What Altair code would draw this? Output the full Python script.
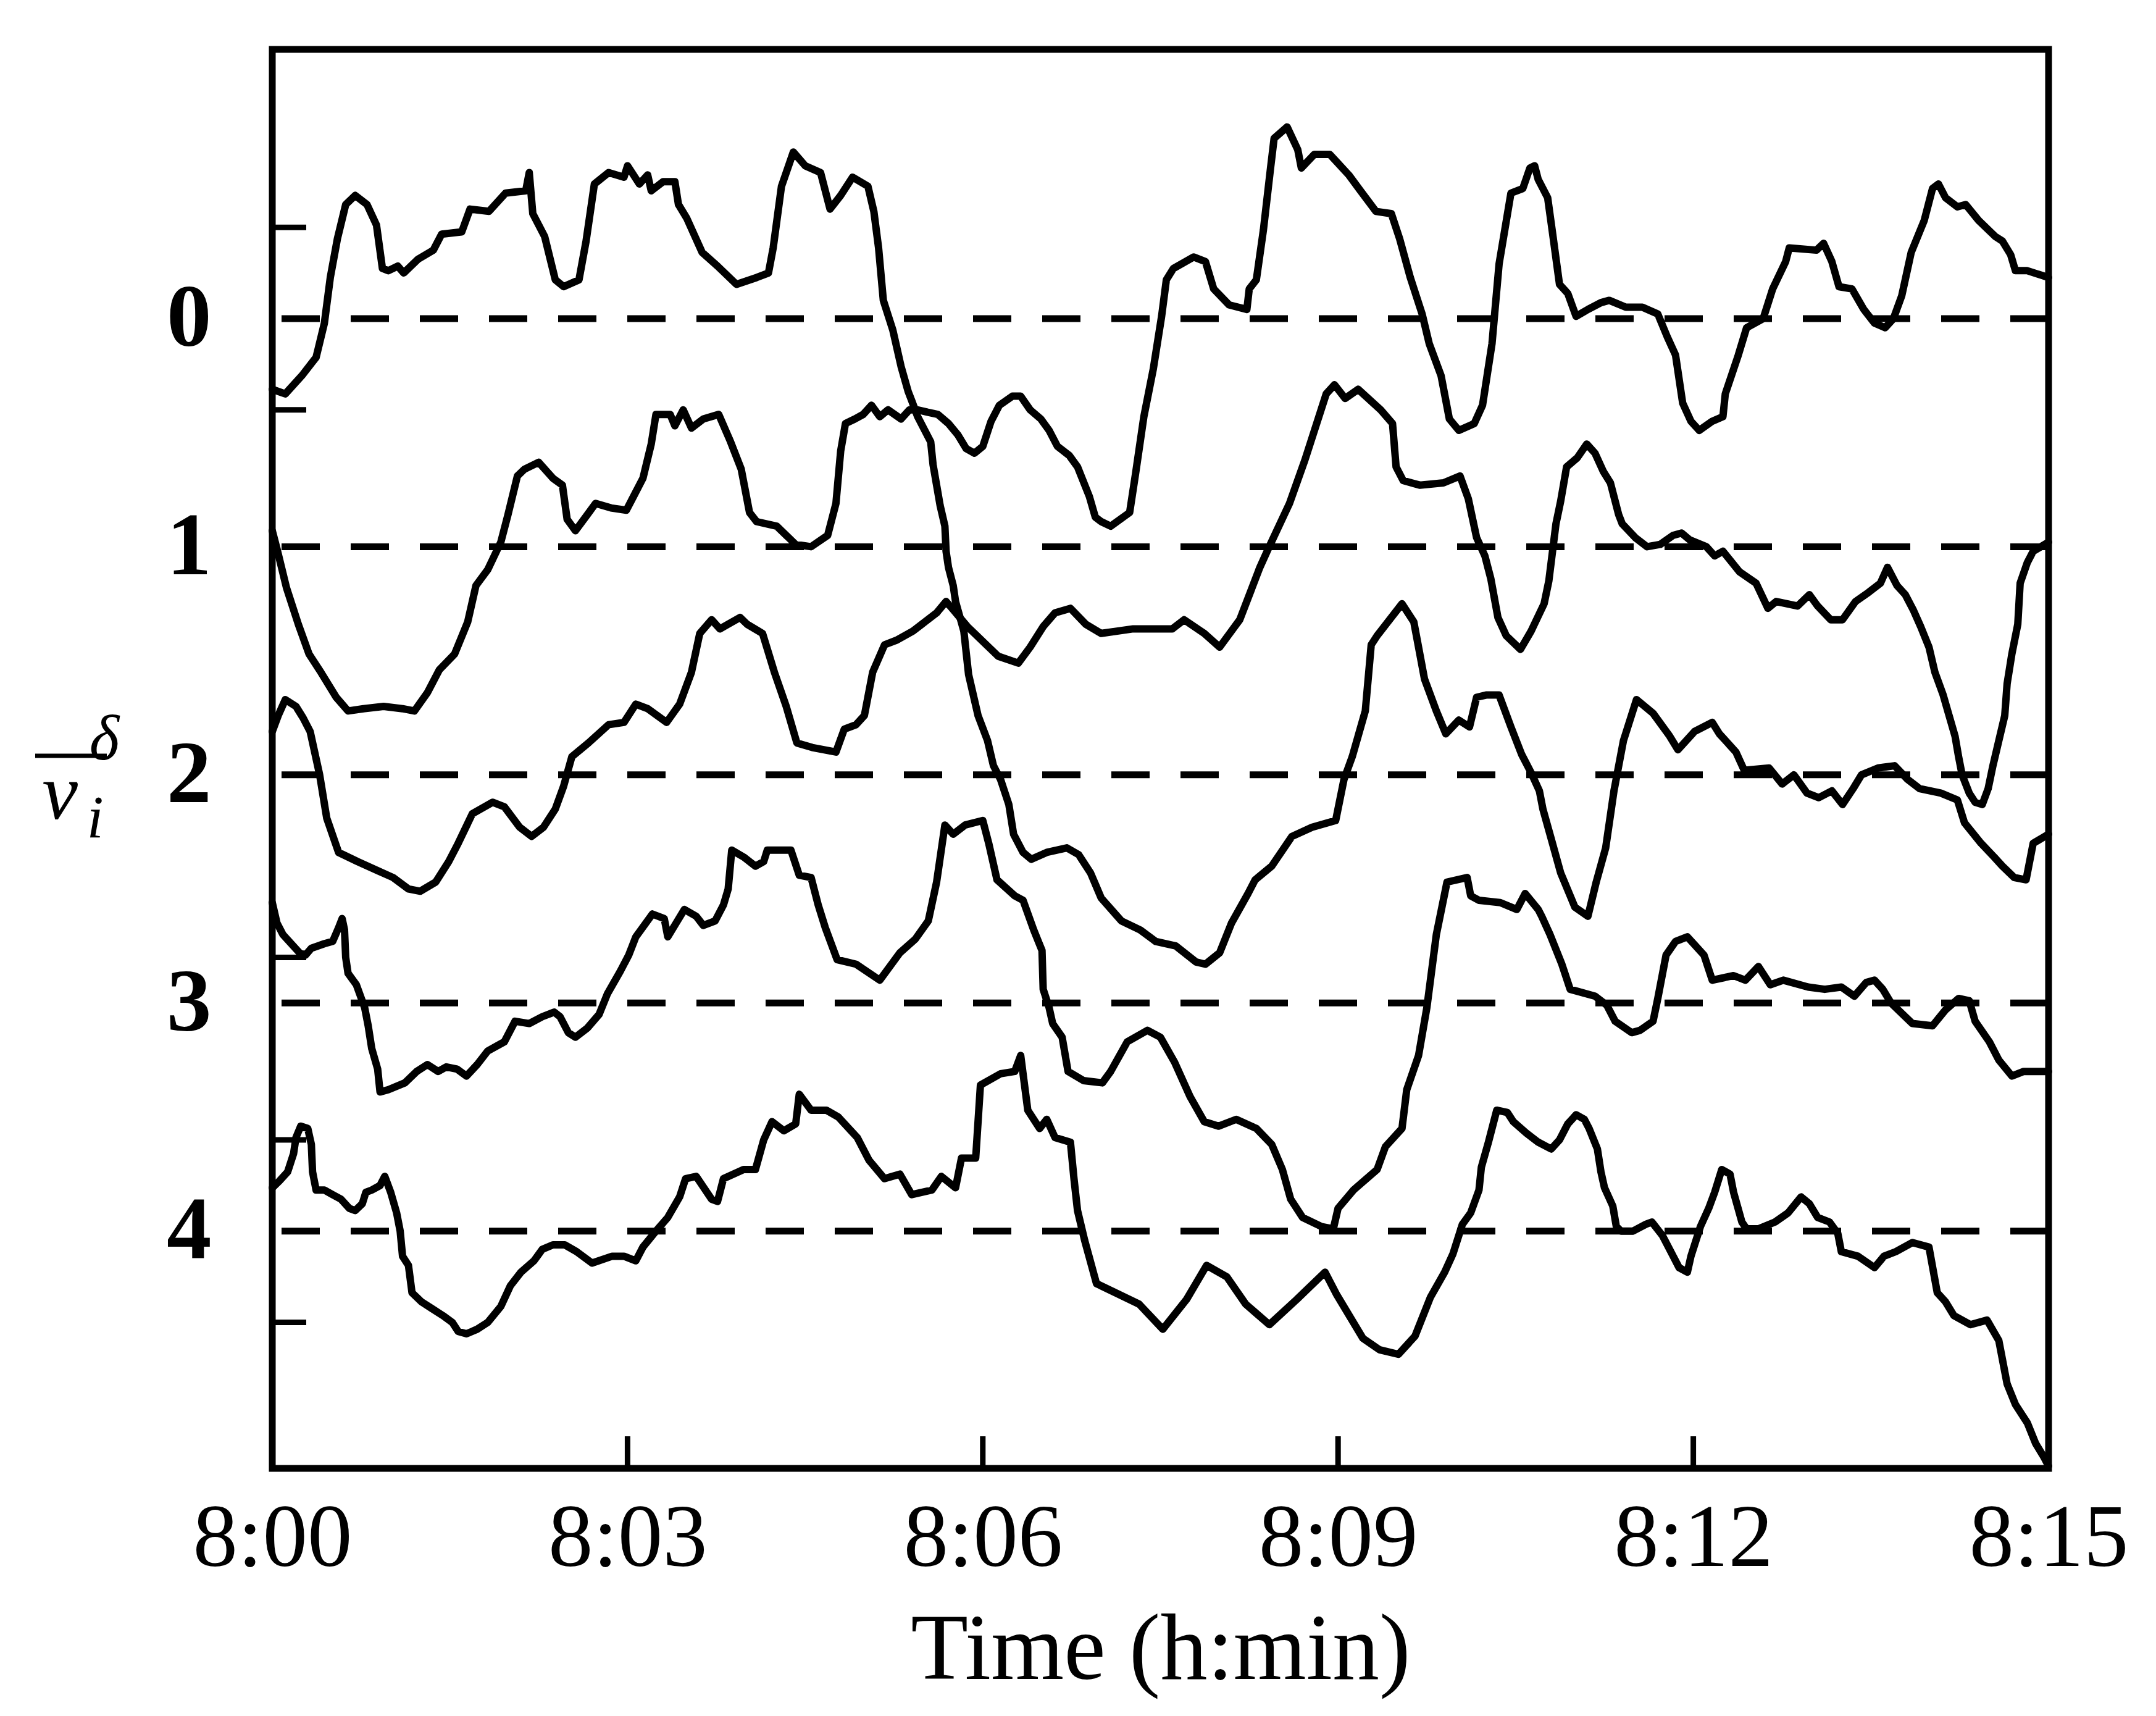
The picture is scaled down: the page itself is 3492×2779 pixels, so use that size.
import altair as alt
import pandas as pd

# ---- data: (minutes after 8:00, offset value) ----
trace0 = [(0,0.31),(0.11,0.33),(0.25,0.25),(0.37,0.17),(0.44,0.02),(0.49,-0.18),(0.55,-0.35),(0.62,-0.50),(0.70,-0.54),(0.80,-0.50),(0.88,-0.41),(0.93,-0.22),(0.98,-0.21),(1.06,-0.23),(1.11,-0.20),(1.23,-0.26),(1.36,-0.30),(1.43,-0.37),(1.60,-0.38),(1.67,-0.48),(1.83,-0.47),(1.97,-0.55),(2.14,-0.56),(2.17,-0.64),(2.20,-0.46),(2.30,-0.36),(2.39,-0.17),(2.46,-0.14),(2.59,-0.17),(2.65,-0.34),(2.72,-0.59),(2.84,-0.64),(2.97,-0.62),(3.00,-0.67),(3.10,-0.59),(3.17,-0.63),(3.20,-0.56),(3.30,-0.60),(3.40,-0.60),(3.43,-0.50),(3.50,-0.44),(3.63,-0.29),(3.76,-0.23),(3.92,-0.15),(4.09,-0.18),(4.19,-0.20),(4.23,-0.31),(4.30,-0.58),(4.40,-0.73),(4.50,-0.67),(4.63,-0.64),(4.71,-0.48),(4.80,-0.54),(4.90,-0.62),(5.03,-0.58),(5.08,-0.47),(5.12,-0.31),(5.16,-0.08),(5.24,0.05),(5.31,0.21),(5.37,0.32),(5.40,0.36),(5.45,0.43),(5.51,0.49),(5.56,0.54),(5.58,0.64),(5.61,0.73),(5.64,0.82),(5.68,0.91),(5.69,1.02),(5.71,1.09),(5.75,1.17),(5.77,1.24),(5.84,1.37),(5.88,1.56),(5.96,1.74),(6.04,1.85),(6.09,1.96),(6.15,2.02),(6.22,2.13),(6.26,2.26),(6.34,2.34),(6.41,2.37),(6.54,2.34),(6.71,2.32),(6.81,2.35),(6.91,2.43),(7.00,2.54),(7.17,2.64),(7.33,2.68),(7.46,2.73),(7.63,2.75),(7.80,2.82),(7.88,2.83),(8.00,2.78),(8.10,2.65),(8.24,2.52),(8.30,2.46),(8.44,2.40),(8.61,2.27),(8.78,2.23),(8.98,2.20),(9.05,2.02),(9.12,1.92),(9.23,1.72),(9.28,1.43),(9.33,1.39),(9.54,1.25),(9.64,1.33),(9.73,1.58),(9.83,1.72),(9.91,1.82),(10.02,1.76),(10.11,1.79),(10.17,1.66),(10.25,1.65),(10.36,1.65),(10.46,1.79),(10.55,1.91),(10.63,1.99),(10.70,2.07),(10.73,2.15),(10.80,2.28),(10.88,2.43),(11.00,2.58),(11.11,2.62),(11.18,2.47),(11.26,2.32),(11.33,2.07),(11.41,1.85),(11.52,1.67),(11.66,1.73),(11.80,1.83),(11.87,1.89),(12.01,1.81),(12.16,1.77),(12.22,1.82),(12.36,1.90),(12.43,1.98),(12.64,1.97),(12.75,2.04),(12.85,2.00),(12.96,2.08),(13.06,2.10),(13.17,2.07),(13.26,2.13),(13.35,2.06),(13.42,2.00),(13.56,1.97),(13.70,1.96),(13.81,2.02),(13.91,2.06),(14.09,2.08),(14.23,2.11),(14.29,2.21),(14.43,2.30),(14.54,2.36),(14.61,2.40),(14.71,2.45),(14.81,2.46),(14.87,2.30),(15.0,2.26)]

trace1 = [(0,0.93),(0.04,1.01),(0.12,1.18),(0.22,1.34),(0.31,1.47),(0.41,1.55),(0.54,1.66),(0.64,1.72),(0.77,1.71),(0.94,1.70),(1.10,1.71),(1.20,1.72),(1.31,1.64),(1.41,1.54),(1.54,1.47),(1.65,1.33),(1.72,1.17),(1.82,1.10),(1.93,0.98),(1.99,0.86),(2.07,0.69),(2.13,0.66),(2.25,0.63),(2.37,0.70),(2.45,0.73),(2.49,0.88),(2.56,0.93),(2.66,0.86),(2.73,0.81),(2.86,0.83),(2.99,0.84),(3.05,0.78),(3.13,0.70),(3.20,0.55),(3.24,0.42),(3.36,0.42),(3.40,0.47),(3.47,0.40),(3.54,0.48),(3.64,0.44),(3.77,0.42),(3.87,0.54),(3.96,0.66),(4.03,0.85),(4.09,0.89),(4.26,0.91),(4.42,0.99),(4.55,1.00),(4.69,0.95),(4.76,0.81),(4.80,0.58),(4.84,0.46),(4.92,0.44),(4.99,0.42),(5.06,0.38),(5.13,0.43),(5.20,0.40),(5.31,0.44),(5.38,0.40),(5.45,0.40),(5.53,0.41),(5.62,0.42),(5.71,0.46),(5.79,0.51),(5.86,0.57),(5.93,0.59),(6.00,0.56),(6.07,0.45),(6.14,0.38),(6.25,0.34),(6.32,0.34),(6.40,0.40),(6.49,0.44),(6.56,0.49),(6.63,0.56),(6.73,0.60),(6.80,0.65),(6.90,0.78),(6.95,0.87),(7.00,0.89),(7.08,0.91),(7.24,0.85),(7.29,0.68),(7.36,0.43),(7.44,0.22),(7.51,-0.01),(7.55,-0.17),(7.61,-0.22),(7.78,-0.27),(7.88,-0.25),(7.95,-0.13),(8.08,-0.06),(8.23,-0.04),(8.25,-0.13),(8.31,-0.17),(8.37,-0.39),(8.43,-0.66),(8.46,-0.79),(8.57,-0.84),(8.66,-0.74),(8.69,-0.66),(8.80,-0.72),(8.93,-0.72),(9.09,-0.63),(9.19,-0.56),(9.32,-0.47),(9.45,-0.46),(9.52,-0.35),(9.61,-0.18),(9.71,-0.02),(9.77,0.11),(9.87,0.25),(9.94,0.44),(10.02,0.49),(10.15,0.46),(10.22,0.38),(10.30,0.11),(10.36,-0.24),(10.46,-0.55),(10.56,-0.57),(10.62,-0.66),(10.66,-0.67),(10.69,-0.61),(10.77,-0.53),(10.81,-0.38),(10.87,-0.15),(10.94,-0.11),(11.01,-0.01),(11.11,-0.04),(11.22,-0.07),(11.29,-0.08),(11.43,-0.05),(11.57,-0.05),(11.70,-0.02),(11.78,0.08),(11.85,0.16),(11.91,0.37),(11.98,0.45),(12.05,0.49),(12.16,0.45),(12.25,0.43),(12.27,0.33),(12.38,0.16),(12.45,0.04),(12.59,0.00),(12.67,-0.13),(12.78,-0.25),(12.81,-0.31),(13.04,-0.30),(13.10,-0.33),(13.17,-0.25),(13.23,-0.14),(13.34,-0.13),(13.44,-0.04),(13.53,0.02),(13.62,0.04),(13.69,0.00),(13.76,-0.10),(13.84,-0.29),(13.95,-0.43),(14.02,-0.57),(14.07,-0.59),(14.13,-0.53),(14.23,-0.49),(14.30,-0.50),(14.41,-0.43),(14.55,-0.36),(14.61,-0.34),(14.68,-0.28),(14.72,-0.21),(14.82,-0.21),(15.0,-0.18)]

trace2 = [(0,1.81),(0.05,1.74),(0.11,1.67),(0.20,1.70),(0.26,1.75),(0.32,1.81),(0.40,2.00),(0.46,2.19),(0.56,2.34),(0.72,2.38),(0.89,2.42),(1.02,2.45),(1.15,2.50),(1.25,2.51),(1.38,2.47),(1.49,2.38),(1.57,2.30),(1.69,2.17),(1.86,2.12),(1.96,2.14),(2.09,2.23),(2.19,2.27),(2.29,2.23),(2.39,2.15),(2.46,2.05),(2.53,1.92),(2.67,1.86),(2.84,1.78),(2.97,1.77),(3.07,1.69),(3.17,1.71),(3.33,1.77),(3.44,1.69),(3.54,1.55),(3.61,1.38),(3.71,1.32),(3.78,1.36),(3.95,1.31),(4.01,1.34),(4.14,1.38),(4.24,1.55),(4.34,1.70),(4.43,1.86),(4.56,1.88),(4.76,1.90),(4.83,1.80),(4.93,1.78),(5.00,1.74),(5.07,1.55),(5.17,1.43),(5.27,1.41),(5.41,1.37),(5.51,1.33),(5.61,1.29),(5.69,1.24),(5.74,1.27),(5.87,1.35),(6.13,1.48),(6.30,1.51),(6.40,1.44),(6.51,1.35),(6.61,1.29),(6.74,1.27),(6.87,1.34),(7.00,1.38),(7.27,1.36),(7.60,1.36),(7.70,1.32),(7.87,1.38),(8.00,1.44),(8.17,1.32),(8.34,1.09),(8.41,1.01),(8.59,0.81),(8.72,0.62),(8.90,0.33),(8.97,0.29),(9.06,0.35),(9.17,0.31),(9.36,0.40),(9.46,0.46),(9.49,0.65),(9.55,0.71),(9.69,0.73),(9.89,0.72),(10.03,0.69),(10.10,0.79),(10.17,0.96),(10.24,1.04),(10.29,1.14),(10.35,1.31),(10.42,1.39),(10.54,1.45),(10.63,1.37),(10.74,1.25),(10.78,1.15),(10.84,0.90),(10.88,0.80),(10.93,0.65),(11.02,0.61),(11.10,0.55),(11.17,0.59),(11.24,0.67),(11.30,0.72),(11.37,0.86),(11.40,0.90),(11.51,0.96),(11.61,1.00),(11.72,0.99),(11.83,0.95),(11.90,0.94),(11.97,0.97),(12.11,1.00),(12.18,1.04),(12.25,1.02),(12.39,1.11),(12.53,1.16),(12.63,1.27),(12.70,1.24),(12.88,1.26),(12.98,1.21),(13.05,1.26),(13.16,1.32),(13.26,1.32),(13.37,1.24),(13.48,1.20),(13.58,1.16),(13.64,1.09),(13.72,1.17),(13.79,1.21),(13.86,1.28),(13.92,1.35),(13.99,1.44),(14.04,1.55),(14.11,1.65),(14.16,1.74),(14.21,1.83),(14.24,1.92),(14.27,2.00),(14.33,2.08),(14.38,2.12),(14.44,2.13),(14.49,2.06),(14.53,1.96),(14.58,1.85),(14.63,1.74),(14.65,1.60),(14.69,1.47),(14.74,1.34),(14.76,1.16),(14.82,1.07),(14.87,1.02),(15.0,0.98)]

trace3 = [(0,2.56),(0.04,2.65),(0.09,2.70),(0.16,2.74),(0.23,2.78),(0.28,2.79),(0.33,2.76),(0.44,2.74),(0.51,2.73),(0.56,2.67),(0.59,2.63),(0.61,2.68),(0.62,2.80),(0.64,2.87),(0.71,2.92),(0.78,3.02),(0.81,3.10),(0.84,3.20),(0.89,3.29),(0.91,3.39),(0.98,3.38),(1.12,3.35),(1.22,3.30),(1.31,3.27),(1.40,3.30),(1.47,3.28),(1.56,3.29),(1.64,3.32),(1.73,3.27),(1.82,3.21),(1.96,3.17),(2.05,3.08),(2.17,3.09),(2.28,3.06),(2.38,3.04),(2.43,3.06),(2.50,3.13),(2.56,3.15),(2.66,3.11),(2.76,3.05),(2.83,2.96),(2.94,2.86),(3.01,2.79),(3.07,2.71),(3.21,2.61),(3.31,2.63),(3.34,2.71),(3.41,2.65),(3.48,2.59),(3.58,2.62),(3.64,2.66),(3.74,2.64),(3.81,2.57),(3.85,2.50),(3.88,2.33),(3.98,2.36),(4.08,2.40),(4.15,2.38),(4.18,2.33),(4.38,2.33),(4.45,2.44),(4.55,2.45),(4.61,2.57),(4.67,2.67),(4.77,2.81),(4.93,2.83),(5.13,2.90),(5.30,2.78),(5.43,2.72),(5.54,2.64),(5.61,2.47),(5.68,2.22),(5.75,2.26),(5.85,2.22),(6.00,2.20),(6.05,2.30),(6.12,2.46),(6.27,2.53),(6.34,2.55),(6.43,2.68),(6.50,2.77),(6.51,2.94),(6.56,3.02),(6.59,3.09),(6.67,3.15),(6.72,3.30),(6.85,3.34),(7.01,3.35),(7.08,3.30),(7.22,3.17),(7.39,3.12),(7.50,3.15),(7.62,3.26),(7.75,3.41),(7.87,3.52),(7.99,3.54),(8.14,3.51),(8.31,3.55),(8.44,3.62),(8.53,3.73),(8.60,3.86),(8.70,3.94),(8.86,3.98),(8.96,3.99),(9.00,3.90),(9.13,3.82),(9.33,3.73),(9.40,3.63),(9.54,3.55),(9.58,3.38),(9.68,3.23),(9.75,3.02),(9.83,2.70),(9.92,2.47),(10.09,2.45),(10.12,2.53),(10.19,2.55),(10.37,2.56),(10.51,2.59),(10.58,2.52),(10.69,2.59),(10.72,2.62),(10.79,2.70),(10.89,2.83),(10.96,2.94),(11.17,2.97),(11.27,3.01),(11.34,3.08),(11.48,3.13),(11.55,3.12),(11.66,3.08),(11.70,2.98),(11.77,2.79),(11.85,2.73),(11.95,2.71),(12.09,2.79),(12.16,2.90),(12.34,2.88),(12.44,2.90),(12.55,2.84),(12.65,2.92),(12.76,2.90),(12.97,2.93),(13.11,2.94),(13.25,2.93),(13.36,2.97),(13.46,2.91),(13.53,2.90),(13.60,2.94),(13.67,3.00),(13.85,3.09),(14.02,3.10),(14.13,3.03),(14.24,2.98),(14.33,2.99),(14.38,3.08),(14.50,3.17),(14.58,3.25),(14.69,3.32),(14.79,3.30),(15.0,3.30)]

trace4 = [(0,3.81),(0.06,3.78),(0.13,3.74),(0.18,3.66),(0.20,3.59),(0.24,3.54),(0.30,3.55),(0.33,3.62),(0.34,3.74),(0.37,3.82),(0.44,3.82),(0.51,3.84),(0.58,3.86),(0.65,3.90),(0.70,3.91),(0.76,3.88),(0.79,3.83),(0.84,3.82),(0.91,3.80),(0.95,3.76),(1.00,3.83),(1.05,3.92),(1.08,4.00),(1.10,4.11),(1.15,4.15),(1.18,4.27),(1.26,4.31),(1.35,4.34),(1.44,4.37),(1.52,4.40),(1.57,4.44),(1.64,4.45),(1.73,4.43),(1.82,4.40),(1.93,4.33),(2.01,4.24),(2.10,4.18),(2.21,4.13),(2.28,4.08),(2.37,4.06),(2.47,4.06),(2.57,4.09),(2.70,4.14),(2.87,4.11),(2.97,4.11),(3.07,4.13),(3.13,4.07),(3.24,4.00),(3.34,3.94),(3.44,3.85),(3.49,3.77),(3.58,3.76),(3.71,3.86),(3.76,3.87),(3.81,3.77),(3.98,3.73),(4.08,3.73),(4.15,3.60),(4.22,3.52),(4.32,3.56),(4.42,3.53),(4.45,3.40),(4.55,3.47),(4.68,3.47),(4.78,3.50),(4.94,3.59),(5.04,3.69),(5.17,3.77),(5.30,3.75),(5.40,3.84),(5.57,3.82),(5.65,3.76),(5.77,3.81),(5.82,3.68),(5.94,3.68),(5.98,3.36),(6.15,3.31),(6.27,3.30),(6.32,3.23),(6.38,3.47),(6.48,3.55),(6.54,3.51),(6.61,3.59),(6.74,3.61),(6.77,3.77),(6.80,3.91),(6.86,4.04),(6.96,4.23),(7.12,4.27),(7.32,4.32),(7.52,4.43),(7.72,4.30),(7.89,4.15),(8.06,4.20),(8.22,4.32),(8.42,4.41),(8.65,4.30),(8.89,4.18),(8.99,4.28),(9.21,4.47),(9.35,4.52),(9.51,4.54),(9.65,4.46),(9.78,4.29),(9.90,4.18),(9.97,4.10),(10.05,3.97),(10.12,3.92),(10.19,3.82),(10.21,3.72),(10.27,3.61),(10.31,3.53),(10.34,3.47),(10.43,3.48),(10.48,3.52),(10.59,3.57),(10.69,3.61),(10.80,3.64),(10.87,3.60),(10.94,3.53),(11.01,3.49),(11.08,3.51),(11.12,3.55),(11.19,3.64),(11.22,3.74),(11.25,3.81),(11.32,3.89),(11.35,3.98),(11.39,4.00),(11.49,4.00),(11.60,3.97),(11.65,3.96),(11.74,4.02),(11.81,4.09),(11.88,4.16),(11.95,4.18),(11.98,4.11),(12.06,3.98),(12.13,3.90),(12.18,3.83),(12.24,3.73),(12.31,3.75),(12.34,3.83),(12.41,3.96),(12.45,3.99),(12.55,3.99),(12.69,3.96),(12.80,3.92),(12.91,3.85),(12.98,3.88),(13.05,3.94),(13.15,3.96),(13.22,4.01),(13.25,4.09),(13.39,4.11),(13.53,4.16),(13.61,4.11),(13.71,4.09),(13.85,4.05),(13.99,4.07),(14.06,4.27),(14.13,4.31),(14.20,4.37),(14.34,4.41),(14.48,4.39),(14.58,4.48),(14.65,4.67),(14.72,4.76),(14.82,4.84),(14.89,4.93),(14.96,4.99),(15.0,5.03)]

baselines = [0, 1, 2, 3, 4]
scale_ticks = [-0.4, 0.4, 2.8, 3.6, 4.4]
time_ticks = [3, 6, 9, 12]
time_labels = [0, 3, 6, 9, 12, 15]
y_labels = [0, 1, 2, 3, 4]

# ---- build tables ----
rows = []
for k, tr in enumerate([trace0, trace1, trace2, trace3, trace4]):
    for i, (t, v) in enumerate(tr):
        rows.append({"series": k, "i": i, "t": t, "v": v})
df = pd.DataFrame(rows)
base_df = pd.DataFrame({"v": baselines})
ytick_df = pd.DataFrame({"v": scale_ticks})
xtick_df = pd.DataFrame({"t": time_ticks})
one = pd.DataFrame({"a": [0]})

W, H = 2877, 2298
FONT = "Liberation Serif"

xs = alt.Scale(domain=[0, 15], nice=False, zero=False)
ys = alt.Scale(domain=[-1.18, 5.04], reverse=True, nice=False, zero=False)

x_axis = alt.Axis(
    values=time_labels,
    labelExpr="'8:' + (datum.value < 10 ? '0' : '') + datum.value",
    title="Time (h:min)",
    labelFont=FONT, labelFontSize=145, labelPadding=42, labelFlush=False,
    labelLimit=0, labelOverlap=False,
    titleFont=FONT, titleFontSize=152, titleFontWeight="normal", titlePadding=34,
    titleLimit=0,
)
y_axis = alt.Axis(
    values=y_labels, format="d", title=None,
    labelFont=FONT, labelFontSize=145, labelFontWeight="bold",
    labelPadding=99, labelLimit=0,
)

lines = alt.Chart(df).mark_line(color="black", strokeWidth=12, strokeJoin="round", strokeCap="round").encode(
    x=alt.X("t:Q", scale=xs, axis=x_axis),
    y=alt.Y("v:Q", scale=ys, axis=y_axis),
    detail="series:N",
    order="i:Q",
)

dashes = alt.Chart(base_df).mark_rule(color="black", strokeWidth=11, strokeDash=[62, 50]).encode(
    y=alt.Y("v:Q", scale=ys),
)

yticks = alt.Chart(ytick_df).mark_rule(color="black", strokeWidth=9).encode(
    y=alt.Y("v:Q", scale=ys),
    x=alt.value(0), x2=alt.value(55),
)

xticks = alt.Chart(xtick_df).mark_rule(color="black", strokeWidth=9).encode(
    x=alt.X("t:Q", scale=xs),
    y=alt.value(H), y2=alt.value(H - 52),
)

# y-axis title: fraction delta / v_i
delta = alt.Chart(one).mark_text(text="δ", font=FONT, fontStyle="italic", fontSize=104,
                                 align="center", baseline="alphabetic", color="black").encode(
    x=alt.value(-272), y=alt.value(1150))
bar = alt.Chart(one).mark_rule(color="black", strokeWidth=7).encode(
    x=alt.value(-384), x2=alt.value(-268), y=alt.value(1144))
vee = alt.Chart(one).mark_text(text="v", font=FONT, fontStyle="italic", fontSize=130,
                               align="center", baseline="alphabetic", color="black").encode(
    x=alt.value(-344), y=alt.value(1246))
sub_i = alt.Chart(one).mark_text(text="i", font=FONT, fontStyle="italic", fontSize=98,
                                 align="center", baseline="alphabetic", color="black").encode(
    x=alt.value(-287), y=alt.value(1276))

chart = alt.layer(lines, dashes, yticks, xticks, delta, bar, vee, sub_i).properties(
    width=W, height=H,
    background="white",
    autosize=alt.AutoSizeParams(type="none"),
    padding={"left": 441, "top": 80, "right": 174, "bottom": 401},
).configure_view(
    stroke="black", strokeWidth=11,
).configure_axis(
    grid=False, ticks=False, domain=False, labelColor="black", titleColor="black",
)

chart.save("out.html", embed_options={"renderer": "svg", "actions": False})
